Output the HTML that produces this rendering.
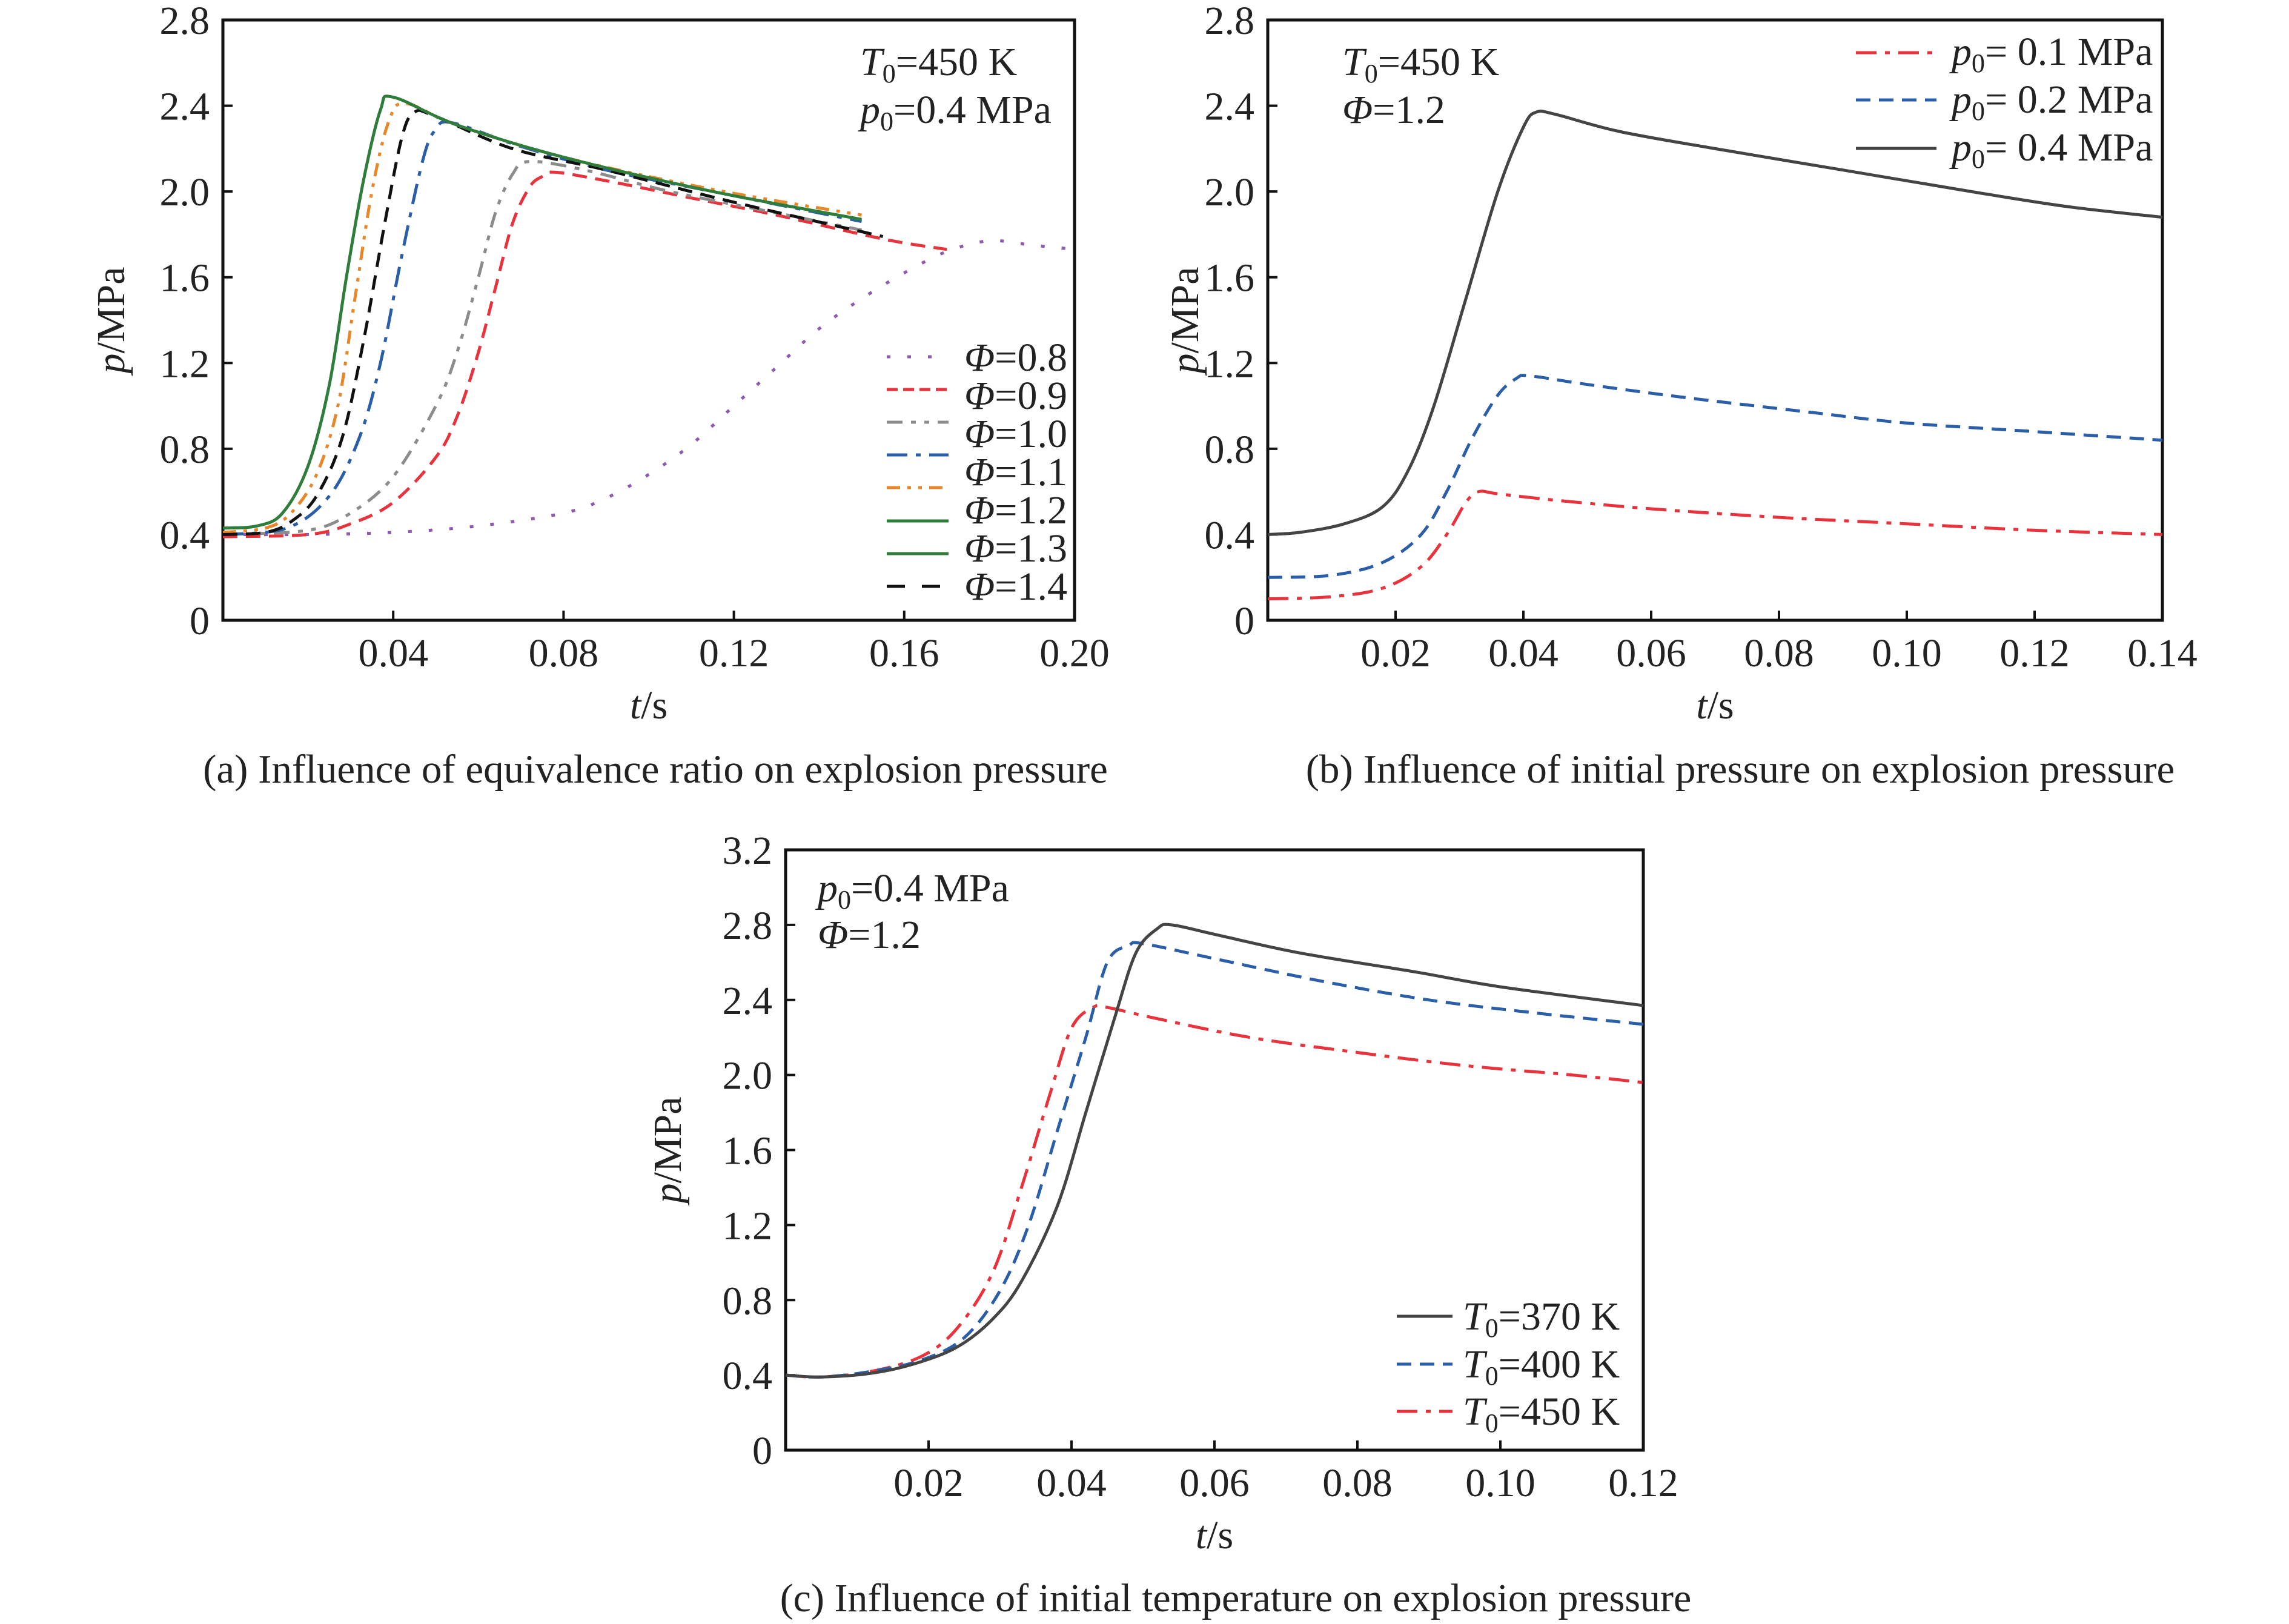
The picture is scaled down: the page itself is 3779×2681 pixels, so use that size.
<!DOCTYPE html>
<html><head><meta charset="utf-8"><style>
html,body{margin:0;padding:0;background:#fff;}
svg{display:block;font-family:"Liberation Serif",serif;}
text{fill:#222;}
</style></head><body>
<svg id="fig" width="3779" height="2681" viewBox="0 0 3779 2681" xmlns="http://www.w3.org/2000/svg"></svg>
<script>
// ---------- Panel (a) data ----------
const aPhi08T=[0,0.02,0.04,0.06,0.08,0.09,0.1,0.11,0.12,0.13,0.14,0.15,0.16,0.17,0.18,0.19,0.2];
const aPhi08P=[0.4,0.4,0.41,0.44,0.5,0.57,0.68,0.82,1.0,1.18,1.36,1.5,1.62,1.72,1.77,1.75,1.73];
const aPhi09T=[0,0.02,0.03,0.04,0.05,0.055,0.06,0.064,0.068,0.072,0.075,0.078,0.09,0.11,0.13,0.15,0.16,0.17];
const aPhi09P=[0.39,0.40,0.45,0.55,0.76,0.95,1.25,1.55,1.85,2.02,2.07,2.09,2.05,1.97,1.89,1.80,1.76,1.73];
const aPhi10T=[0,0.02,0.03,0.04,0.05,0.055,0.06,0.064,0.068,0.072,0.085,0.105,0.13,0.15];
const aPhi10P=[0.40,0.42,0.5,0.67,1.0,1.25,1.6,1.9,2.08,2.14,2.1,2.0,1.9,1.82];
const aPhi11T=[0,0.015,0.025,0.032,0.037,0.042,0.047,0.05,0.054,0.07,0.09,0.115,0.15];
const aPhi11P=[0.40,0.43,0.58,0.85,1.2,1.7,2.15,2.29,2.32,2.21,2.1,2.0,1.86];
const aPhi12T=[0,0.01,0.016,0.022,0.027,0.031,0.035,0.039,0.043,0.055,0.08,0.115,0.15];
const aPhi12P=[0.41,0.43,0.5,0.68,1.0,1.5,2.0,2.33,2.41,2.31,2.16,2.01,1.89];
const aPhi13T=[0,0.008,0.014,0.02,0.025,0.029,0.033,0.037,0.04,0.055,0.08,0.115,0.15];
const aPhi13P=[0.43,0.44,0.5,0.72,1.1,1.6,2.05,2.38,2.44,2.31,2.16,2.0,1.87];
const aPhi14T=[0,0.01,0.016,0.022,0.028,0.033,0.038,0.042,0.045,0.05,0.068,0.09,0.12,0.155];
const aPhi14P=[0.40,0.41,0.46,0.58,0.85,1.3,1.85,2.25,2.37,2.35,2.2,2.1,1.95,1.79];
const aXTicks=[0.04,0.08,0.12,0.16,0.20];
const aXLabels=["0.04","0.08","0.12","0.16","0.20"];
const aYTicks=[0,0.4,0.8,1.2,1.6,2.0,2.4,2.8];
const aYLabels=["0","0.4","0.8","1.2","1.6","2.0","2.4","2.8"];
// ---------- Panel (b) data ----------
const bP04T=[0,0.005,0.012,0.018,0.022,0.026,0.031,0.036,0.04,0.042,0.045,0.055,0.07,0.09,0.11,0.125,0.14];
const bP04P=[0.4,0.41,0.45,0.53,0.7,1.0,1.5,2.0,2.3,2.37,2.36,2.28,2.2,2.1,2.0,1.93,1.88];
const bP02T=[0,0.01,0.018,0.024,0.028,0.032,0.036,0.039,0.041,0.05,0.065,0.085,0.1,0.12,0.14];
const bP02P=[0.2,0.21,0.27,0.4,0.6,0.85,1.05,1.13,1.14,1.1,1.04,0.97,0.92,0.88,0.84];
const bP01T=[0,0.01,0.018,0.024,0.028,0.031,0.033,0.036,0.045,0.06,0.08,0.1,0.12,0.14];
const bP01P=[0.1,0.11,0.15,0.25,0.4,0.55,0.6,0.59,0.56,0.52,0.48,0.45,0.42,0.40];
const bXTicks=[0.02,0.04,0.06,0.08,0.10,0.12,0.14];
const bXLabels=["0.02","0.04","0.06","0.08","0.10","0.12","0.14"];
const bYTicks=[0,0.4,0.8,1.2,1.6,2.0,2.4,2.8];
const bYLabels=["0","0.4","0.8","1.2","1.6","2.0","2.4","2.8"];
// ---------- Panel (c) data ----------
const c370T=[0,0.005,0.012,0.018,0.024,0.029,0.033,0.038,0.042,0.046,0.049,0.052,0.054,0.06,0.072,0.088,0.1,0.12];
const c370P=[0.4,0.39,0.41,0.46,0.55,0.7,0.9,1.3,1.8,2.3,2.65,2.78,2.8,2.75,2.65,2.55,2.47,2.37];
const c400T=[0,0.005,0.012,0.019,0.025,0.03,0.034,0.038,0.042,0.045,0.048,0.05,0.06,0.075,0.09,0.105,0.12];
const c400P=[0.4,0.39,0.42,0.48,0.6,0.85,1.2,1.7,2.2,2.6,2.69,2.7,2.62,2.5,2.4,2.33,2.27];
const c450T=[0,0.005,0.012,0.019,0.024,0.029,0.033,0.037,0.04,0.043,0.045,0.052,0.065,0.08,0.095,0.11,0.12];
const c450P=[0.4,0.39,0.42,0.5,0.65,0.95,1.4,1.9,2.25,2.36,2.36,2.3,2.2,2.12,2.05,2.0,1.96];
const cXTicks=[0.02,0.04,0.06,0.08,0.10,0.12];
const cXLabels=["0.02","0.04","0.06","0.08","0.10","0.12"];
const cYTicks=[0,0.4,0.8,1.2,1.6,2.0,2.4,2.8,3.2];
const cYLabels=["0","0.4","0.8","1.2","1.6","2.0","2.4","2.8","3.2"];

const NS="http://www.w3.org/2000/svg";
const svg=document.getElementById('fig');
const TF=66;
function mk(tag,attrs,parent){const e=document.createElementNS(NS,tag);for(const k in attrs)e.setAttribute(k,attrs[k]);(parent||svg).appendChild(e);return e;}
function axes(x0,x1,y0,y1,xmax,ymax){
  return {sx:v=>x0+(v/xmax)*(x1-x0), sy:v=>y1-(v/ymax)*(y1-y0), x0,x1,y0,y1};
}
function drawFrame(ax,name,xT,xL,yT,yL,ytitleX){
  const g=mk('g',{});
  
  
  const r=mk('rect',{x:ax.x0,y:ax.y0,width:ax.x1-ax.x0,height:ax.y1-ax.y0,fill:'none',stroke:'#111','stroke-width':5},g);
  
  
  xT.forEach((v,i)=>{
    const x=ax.sx(v);
    const t=mk('line',{x1:x,x2:x,y1:ax.y1,y2:ax.y1-16,stroke:'#111','stroke-width':4},g);
    
    
    const l=mk('text',{x:x,y:ax.y1+76,'font-size':TF,'text-anchor':'middle'},g);
    l.textContent=xL[i];
    
    
  });
  yT.forEach((v,i)=>{
    const y=ax.sy(v);
    const t=mk('line',{x1:ax.x0,x2:ax.x0+16,y1:y,y2:y,stroke:'#111','stroke-width':4},g);
    
    
    const l=mk('text',{x:ax.x0-22,y:y+23,'font-size':TF,'text-anchor':'end'},g);
    l.textContent=yL[i];
    
    
  });
  const xt=mk('text',{x:(ax.x0+ax.x1)/2,y:ax.y1+162,'font-size':TF,'text-anchor':'middle'},g);
  xt.innerHTML='<tspan font-style="italic">t</tspan>/s';
  
  
  const cy=(ax.y0+ax.y1)/2;
  const yt=mk('text',{x:ytitleX,y:cy,'font-size':TF,'text-anchor':'middle',transform:`rotate(-90 ${ytitleX} ${cy})`},g);
  yt.innerHTML='<tspan font-style="italic">p</tspan>/MPa';
  
  
}
function series(ax,T,P,color,dash,name){
  const pts=T.map((t,i)=>[ax.sx(t),ax.sy(P[i])]);
  let d='M'+pts[0][0].toFixed(1)+','+pts[0][1].toFixed(1);
  for(let i=0;i<pts.length-1;i++){
    const p0=pts[Math.max(0,i-1)],p1=pts[i],p2=pts[i+1],p3=pts[Math.min(pts.length-1,i+2)];
    const k=1/6;
    const c1=[p1[0]+(p2[0]-p0[0])*k,p1[1]+(p2[1]-p0[1])*k];
    const c2=[p2[0]-(p3[0]-p1[0])*k,p2[1]-(p3[1]-p1[1])*k];
    d+=`C${c1[0].toFixed(1)},${c1[1].toFixed(1)} ${c2[0].toFixed(1)},${c2[1].toFixed(1)} ${p2[0].toFixed(1)},${p2[1].toFixed(1)}`;
  }
  const p=mk('path',{d:d,fill:'none',stroke:color,'stroke-width':5,'stroke-dasharray':dash,'stroke-linejoin':'round'});
  
  
}
function legLine(x1,x2,y,color,dash,name){
  const l=mk('line',{x1:x1,x2:x2,y1:y,y2:y,stroke:color,'stroke-width':5,'stroke-dasharray':dash});
  
  
}
function txt(x,y,html,name,size,anchor){
  const t=mk('text',{x:x,y:y,'font-size':size||64,'text-anchor':anchor||'start'});
  t.innerHTML=html;
  
  
}
const PURPLE='#8e59b0',RED='#e8323c',GRAY='#8c8c8c',BLUE='#2a5ea9',ORANGE='#e8862a',GREEN='#2f7d3a',BLACK='#111',DGRAY='#444';
const DOT='6 28',DASH='24 14',DDOT='26 14 8 14 8 14',DDASH='34 14 8 14',DASHDOTDOT='22 12 6 12 6 12';

// Panel a
const A=axes(368,1774,33,1024,0.2,2.8);
drawFrame(A,'panel-a',aXTicks,aXLabels,aYTicks,aYLabels,205);
series(A,aPhi08T,aPhi08P,PURPLE,DOT,'curve-phi-0-8');
series(A,aPhi09T,aPhi09P,RED,DASH,'curve-phi-0-9');
series(A,aPhi10T,aPhi10P,GRAY,DDOT,'curve-phi-1-0');
series(A,aPhi11T,aPhi11P,BLUE,DDASH,'curve-phi-1-1');
series(A,aPhi12T,aPhi12P,ORANGE,DASHDOTDOT,'curve-phi-1-2');
series(A,aPhi14T,aPhi14P,BLACK,DASH,'curve-phi-1-4');
series(A,aPhi13T,aPhi13P,GREEN,'none','curve-phi-1-3');
const aLeg=[[PURPLE,DOT],[RED,'18 9'],[GRAY,DDOT],[BLUE,DDASH],[ORANGE,DASHDOTDOT],[GREEN,'none'],[GREEN,'none'],[BLACK,'30 28']];
const aLegY=[589,643,697,751,805,860,914,968];
aLeg.forEach((s,i)=>legLine(1464,1566,aLegY[i],s[0],s[1],'legend-line-a'));
const aLegLab=["0.8","0.9","1.0","1.1","1.2","1.3","1.4"];
aLegLab.forEach((s,i)=>txt(1592,612+i*63,'<tspan font-style="italic">Φ</tspan>='+s,'legend-label-phi',66));
txt(1420,124,'<tspan font-style="italic">T</tspan><tspan font-size="44" dy="12">0</tspan><tspan dy="-12">=450 K</tspan>','annotation-t0',66);
txt(1420,203,'<tspan font-style="italic">p</tspan><tspan font-size="44" dy="12">0</tspan><tspan dy="-12">=0.4 MPa</tspan>','annotation-p0',66);
txt(1082,1292,'(a) Influence of equivalence ratio on explosion pressure','caption-a',67,'middle');

// Panel b
const B=axes(2093,3570,33,1024,0.14,2.8);
drawFrame(B,'panel-b',bXTicks,bXLabels,bYTicks,bYLabels,1978);
series(B,bP01T,bP01P,RED,DDASH,'curve-p0-0-1');
series(B,bP02T,bP02P,BLUE,DASH,'curve-p0-0-2');
series(B,bP04T,bP04P,DGRAY,'none','curve-p0-0-4');
legLine(3064,3197,87,RED,DDASH,'legend-line-p0-0-1');
legLine(3064,3197,165,BLUE,DASH,'legend-line-p0-0-2');
legLine(3064,3197,245,DGRAY,'none','legend-line-p0-0-4');
const bLegLab=["0.1","0.2","0.4"];
bLegLab.forEach((s,i)=>txt(3222,[107,186,265][i],'<tspan font-style="italic">p</tspan><tspan font-size="44" dy="12">0</tspan><tspan dy="-12">= '+s+' MPa</tspan>','legend-label-p0',66));
txt(2216,124,'<tspan font-style="italic">T</tspan><tspan font-size="44" dy="12">0</tspan><tspan dy="-12">=450 K</tspan>','annotation-t0-b',66);
txt(2216,203,'<tspan font-style="italic">Φ</tspan>=1.2','annotation-phi-b',66);
txt(2873,1292,'(b) Influence of initial pressure on explosion pressure','caption-b',67,'middle');

// Panel c
const C=axes(1297,2713,1403,2394,0.12,3.2);
drawFrame(C,'panel-c',cXTicks,cXLabels,cYTicks,cYLabels,1124);
series(C,c450T,c450P,RED,DDASH,'curve-t0-450');
series(C,c400T,c400P,BLUE,DASH,'curve-t0-400');
series(C,c370T,c370P,DGRAY,'none','curve-t0-370');
legLine(2306,2398,2173,DGRAY,'none','legend-line-t0-370');
legLine(2306,2398,2252,BLUE,DASH,'legend-line-t0-400');
legLine(2306,2398,2330,RED,DDASH,'legend-line-t0-450');
const cLegLab=["370","400","450"];
cLegLab.forEach((s,i)=>txt(2415,[2195,2274,2352][i],'<tspan font-style="italic">T</tspan><tspan font-size="44" dy="12">0</tspan><tspan dy="-12">='+s+' K</tspan>','legend-label-t0',66));
txt(1350,1488,'<tspan font-style="italic">p</tspan><tspan font-size="44" dy="12">0</tspan><tspan dy="-12">=0.4 MPa</tspan>','annotation-p0-c',66);
txt(1350,1565,'<tspan font-style="italic">Φ</tspan>=1.2','annotation-phi-c',66);
txt(2040,2660,'(c) Influence of initial temperature on explosion pressure','caption-c',66,'middle');
</script>
</body></html>
